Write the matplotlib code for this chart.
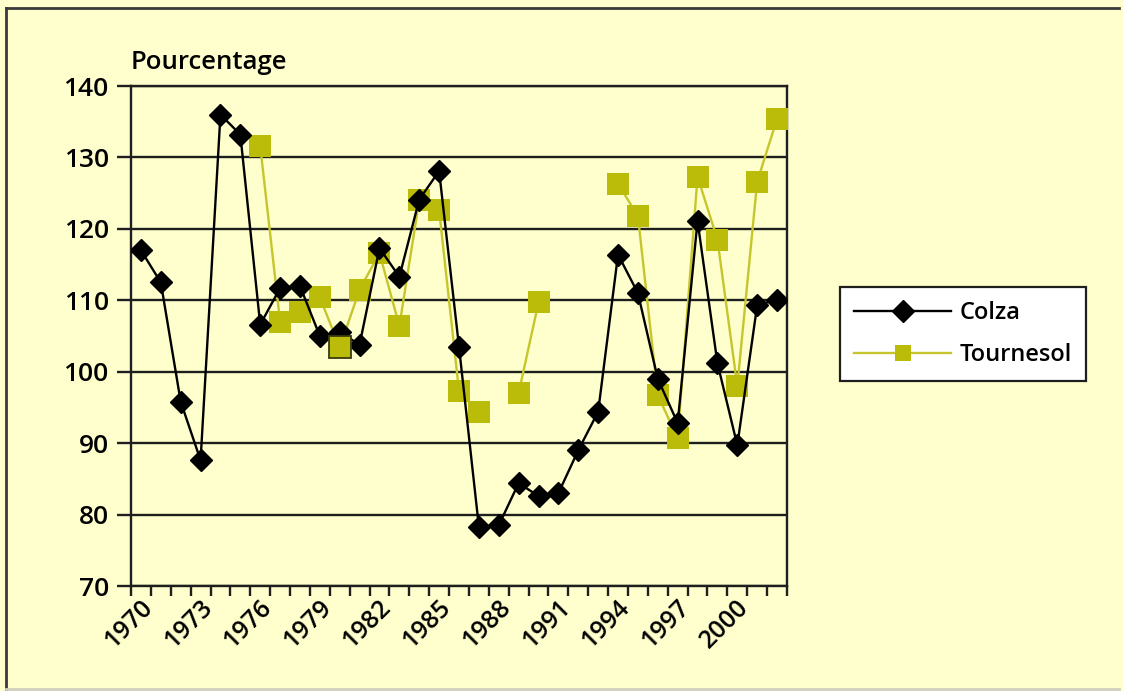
import numpy as np
import matplotlib
matplotlib.use("Agg")
import matplotlib.pyplot as plt
from matplotlib.lines import Line2D
import matplotlib.transforms as mtransforms

plt.rcParams['font.family'] = ['Open Sans', 'DejaVu Sans']
plt.rcParams['font.weight'] = 600

# Years on the category axis
years = list(range(1970, 2003))
year_labels = [str(y) if (y - 1970) % 3 == 0 else "" for y in years]

# Index values (percent)
colza = [117.0, 112.5, 95.8, 87.6, 136.0, 133.2, 106.6, 111.7, 112.0, 105.0,
         105.5, 103.8, 117.3, 113.3, 124.1, 128.1, 103.5, 78.3, 78.5, 84.4,
         82.6, 83.0, 89.0, 94.4, 116.4, 111.0, 99.0, 92.8, 121.1, 101.2,
         89.7, 109.3, 110.1]
tournesol = [None, None, None, None, None, None, 131.6, 107.0, 108.4, 110.4,
             103.4, 111.5, 116.6, 106.4, 124.0, 122.6, 97.3, 94.3, None, 97.0,
             109.7, None, None, None, 126.3, 121.8, 96.7, 90.7, 127.3, 118.5,
             98.0, 126.6, 135.4]

series_names = ["Colza", "Tournesol"]
y_label = "Pourcentage"

bg = "#FFFFCD"
olive = "#BBBB0A"
olive_line = "#C6C62C"
ink = "#1e1e1e"

W, H = 1123, 691
fig = plt.figure(figsize=(W / 100, H / 100), dpi=100, facecolor=bg)

x0, x1, ytop, ybot = 131, 787, 86, 586
ax = fig.add_axes([x0 / W, 1 - ybot / H, (x1 - x0) / W, (ybot - ytop) / H])
ax.set_facecolor(bg)

x = np.arange(len(years))
col = np.array(colza, dtype=float)
tou = np.array([np.nan if v is None else v for v in tournesol], dtype=float)

ax.plot(x, tou, color=olive_line, lw=1.7, marker='s', ms=16, mfc=olive,
        mec=olive, mew=0, zorder=3, label=series_names[1])
ax.plot(x, col, color='black', lw=1.7, marker='D', ms=11.5, mfc='black',
        mec='black', mew=1, zorder=4, label=series_names[0])
# the 1980 sunflower point sits over the rapeseed marker, outlined
i80 = years.index(1980)
ax.plot([x[i80]], [tou[i80]], marker='s', ms=16, mfc=olive, mec='#3a3a10',
        mew=1.3, ls='none', zorder=5)

ax.set_xlim(-0.5, len(years) - 0.5)
ax.set_ylim(70, 140)
ax.set_yticks(np.arange(70, 141, 10))
ax.yaxis.grid(True, color=ink, lw=1.7)
ax.set_axisbelow(True)

ax.set_xticks(x)
ax.set_xticklabels(year_labels, rotation=45, ha='right', va='center',
                   rotation_mode='anchor', fontsize=18)
ax.tick_params(axis='x', which='major', length=0, pad=13)
shift = mtransforms.ScaledTranslation(8 / 100, 0, fig.dpi_scale_trans)
for lab in ax.get_xticklabels():
    lab.set_transform(lab.get_transform() + shift)
ax.set_xticks(np.arange(-0.5, len(years), 1), minor=True)
ax.tick_params(axis='x', which='minor', length=7, width=1.7, color=ink,
               direction='out')
ax.tick_params(axis='y', length=10, width=1.7, color=ink, labelsize=19,
               pad=6)

for s in ax.spines.values():
    s.set_color(ink)
    s.set_linewidth(1.7)

ax.text(-0.5, 141.5, y_label, fontsize=18.5, ha='left', va='bottom',
        transform=ax.transData)

handles, labels = ax.get_legend_handles_labels()
order = [1, 0]
leg = fig.legend([handles[i] for i in order], [labels[i] for i in order],
                 loc='upper left', bbox_to_anchor=(840 / W, 1 - 287 / H),
                 bbox_transform=fig.transFigure, frameon=True, fancybox=False,
                 edgecolor=ink, facecolor='white', framealpha=1,
                 fontsize=17, handlelength=4.1, borderpad=0.6,
                 labelspacing=0.75, handletextpad=0.35, borderaxespad=0)
leg.get_frame().set_linewidth(1.6)
for h in leg.legend_handles:
    h.set_markersize(11)

# outer frame of the chart
fig.add_artist(Line2D([6 / W, 1119 / W], [1 - 8 / H, 1 - 8 / H],
                      transform=fig.transFigure, color='#3a3a3a', lw=2))
fig.add_artist(Line2D([6 / W, 6 / W], [1 - 8 / H, 1 - 689 / H],
                      transform=fig.transFigure, color='#3a3a3a', lw=2))
fig.add_artist(Line2D([6 / W, 1119 / W], [1 - 689 / H, 1 - 689 / H],
                      transform=fig.transFigure, color='#cfcfc0', lw=2))

fig.savefig("out.png", dpi=100, facecolor=bg)
